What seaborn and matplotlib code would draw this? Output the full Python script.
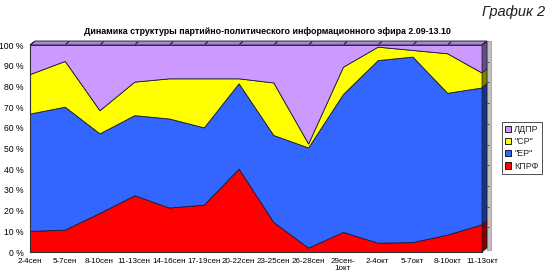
import numpy as np
import pandas as pd
import matplotlib
matplotlib.use("Agg")
import matplotlib.pyplot as plt
import seaborn as sns
from matplotlib.patches import Polygon, Patch
from matplotlib.lines import Line2D

# ---------------- data ----------------
periods = ["2-4сен", "5-7сен", "8-10сен", "11-13сен", "14-16сен", "17-19сен",
           "20-22сен", "23-25сен", "26-28сен", "29сен-\n1окт", "2-4окт",
           "5-7окт", "8-10окт", "11-13окт"]
kprf = [10.2, 10.8, 18.9, 27.4, 21.5, 22.9, 40.3, 14.5, 2.1, 9.7, 4.5, 4.8, 8.4, 13.4]
er = [56.7, 59.4, 38.4, 38.7, 43.0, 37.3, 41.2, 42.0, 48.4, 66.6, 88.2, 89.6, 68.5, 66.1]
sr = [19.1, 22.1, 11.2, 16.2, 19.4, 23.7, 2.4, 25.4, 1.9, 13.2, 6.5, 3.2, 19.1, 7.1]
ldpr = [14.0, 7.7, 31.5, 17.7, 16.1, 16.1, 16.1, 18.1, 47.6, 10.5, 0.8, 2.4, 4.0, 13.4]
parties = ["КПРФ", '"ЕР"', '"СР"', "ЛДПР"]
y_ticks = list(range(0, 101, 10))
title = "Динамика структуры партийно-политического информационного эфира 2.09-13.10"
corner_label = "График 2"

colors = ["#FF0000", "#3366FF", "#FFFF00", "#CC99FF"]
side_colors = ["#800000", "#1A3380", "#808000", "#664C80"]
top_color = "#A585D6"
edge = "#1A1A33"

# ---------------- style ----------------
sns.set_theme(style="white")
plt.rcParams["font.family"] = ["Liberation Sans", "DejaVu Sans"]

W, H = 550, 279
fig = plt.figure(figsize=(W / 100, H / 100), dpi=100)
fig.patch.set_facecolor("white")


def fx(px):
    return px / W


def fy(py):
    return 1 - py / H


ax = fig.add_axes([fx(30), fy(252), (482 - 30) / W, (252 - 45) / H])
ax.set_facecolor("none")

df = pd.DataFrame({"КПРФ": kprf, '"ЕР"': er, '"СР"': sr, "ЛДПР": ldpr})
df = df.div(df.sum(axis=1), axis=0) * 100
x = np.arange(len(periods))

ax.stackplot(x, *[df[p].values for p in parties], colors=colors,
             edgecolor=edge, linewidth=0.6, zorder=2)

ax.set_xlim(0, len(periods) - 1)
ax.set_ylim(0, 100)

# ---------------- pseudo 3D ----------------
n = len(periods) - 1
dx = 5 / (452 / n)
dy = 4 / 207 * 100
cum = df[parties].cumsum(axis=1)

# top face
ax.add_patch(Polygon([(0, 100), (n, 100), (n + dx, 100 + dy), (dx, 100 + dy)],
                     closed=True, facecolor=top_color, edgecolor=edge,
                     linewidth=0.6, clip_on=False, zorder=3))
for i in x:
    ax.add_line(Line2D([i + dx * 0.25, i + dx * 0.75], [100 + dy * 0.25, 100 + dy * 0.75],
                       color=edge, linewidth=0.8, clip_on=False, zorder=4))

# right side faces
lower = 0.0
for k, p in enumerate(parties):
    upper = cum[p].iloc[-1]
    ax.add_patch(Polygon([(n, lower), (n, upper), (n + dx, upper + dy), (n + dx, lower + dy)],
                         closed=True, facecolor=side_colors[k], edgecolor=edge,
                         linewidth=0.5, clip_on=False, zorder=3))
    lower = upper

# gray right wall
gw = 4 / (452 / n)
ax.add_patch(Polygon([(n + dx, dy - 1), (n + dx, 100 + dy), (n + dx + gw, 100 + dy),
                      (n + dx + gw, dy - 1)],
                     closed=True, facecolor="#C0C0C0", edgecolor="#909090",
                     linewidth=0.5, clip_on=False, zorder=2))
for v in y_ticks[1:-1]:
    ax.add_line(Line2D([n + dx, n + dx + gw * 0.6], [v + dy, v + dy], color="#404040",
                       linewidth=0.6, clip_on=False, zorder=3))

# ---------------- axes ----------------
for s in ["top", "right"]:
    ax.spines[s].set_visible(False)
for s in ["left", "bottom"]:
    ax.spines[s].set_color("#303030")
    ax.spines[s].set_linewidth(0.8)
    ax.spines[s].set_zorder(5)

ax.set_yticks(y_ticks)
ax.set_yticklabels([f"{v} %" for v in y_ticks])
ax.set_xticks(x)
ax.set_xticklabels(periods, linespacing=1.0)
ax.tick_params(axis="both", direction="out", length=3, width=0.6, colors="#303030",
               labelcolor="black", pad=1.5)
ax.tick_params(axis="y", labelsize=6.2)
ax.tick_params(axis="x", labelsize=5.8)
ax.grid(False)

# ---------------- texts ----------------
fig.text(fx(267), fy(31), title, ha="center", va="center", fontsize=6.4,
         fontweight="bold", color="black")
fig.text(fx(545), fy(12), corner_label, ha="right", va="center", fontsize=10.5,
         fontstyle="italic", color="#202020")

handles = [Patch(facecolor=colors[k], edgecolor="black", linewidth=0.6, label=parties[k])
           for k in range(len(parties) - 1, -1, -1)]
leg = fig.legend(handles=handles, loc="upper left", bbox_to_anchor=(fx(502), fy(122)),
                 frameon=True, fancybox=False, edgecolor="black", fontsize=6.5,
                 handlelength=0.7, handleheight=0.7, handletextpad=0.3,
                 borderpad=0.35, labelspacing=0.35, borderaxespad=0)
leg.get_frame().set_linewidth(0.6)

fig.savefig("out.png", dpi=100, facecolor="white")
